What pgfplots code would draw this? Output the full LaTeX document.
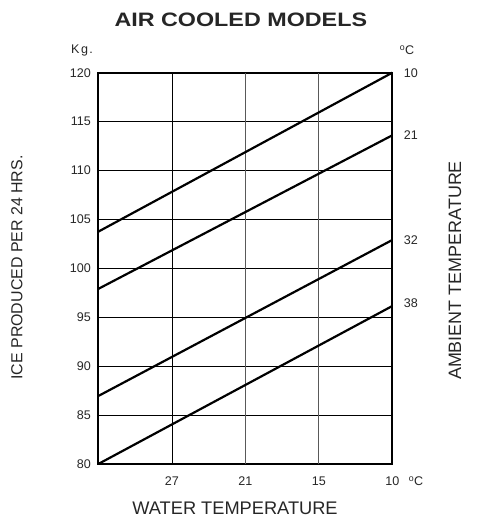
\documentclass[border=0pt]{standalone}
\usepackage{pgfplots}
\pgfplotsset{compat=1.18}
\usepackage{fontspec}
\setmainfont{Liberation Sans}
\definecolor{txt}{gray}{0.15}
\begin{document}
\begin{tikzpicture}
\useasboundingbox (0,0) rectangle (480bp,521bp);
\begin{axis}[
  at={(98.3bp,57bp)}, anchor=south west,
  scale only axis, width=294bp, height=391.3bp,
  xmin=0, xmax=4, ymin=80, ymax=120,
  xtick={1,4}, xticklabels={27,10},
  extra x ticks={2,3}, extra x tick labels={21,15},
  extra x tick style={grid style={gray!70!black, line width=0.7pt}},
  ytick={80,85,...,120},
  major tick length=0pt,
  xmajorgrids, ymajorgrids,
  grid style={black, line width=0.6pt},
  axis line style={line width=2.3pt, black},
  tick label style={font=\fontsize{12.6}{15}\selectfont, text=txt},
  /pgf/number format/assume math mode=true,
  xticklabel style={yshift=-9bp},
  yticklabel style={xshift=-4bp},
  clip=false,
]
\addplot[black, line width=2.2pt] coordinates {(0,103.75) (4,120)};
\addplot[black, line width=2.2pt] coordinates {(0,97.9) (4,113.6)};
\addplot[black, line width=2.2pt] coordinates {(0,86.95) (4,102.9)};
\addplot[black, line width=2.2pt] coordinates {(0,80) (4,96.15)};
\node[anchor=west, font=\fontsize{12.6}{15}\selectfont, text=txt] at (axis cs:4,120) [xshift=8bp] {10};
\node[anchor=west, font=\fontsize{12.6}{15}\selectfont, text=txt] at (axis cs:4,113.6) [xshift=8bp] {21};
\node[anchor=west, font=\fontsize{12.6}{15}\selectfont, text=txt] at (axis cs:4,102.9) [xshift=8bp] {32};
\node[anchor=west, font=\fontsize{12.6}{15}\selectfont, text=txt] at (axis cs:4,96.45) [xshift=8bp] {38};
\end{axis}
\node[font=\fontsize{19.5}{22}\selectfont\bfseries, text=txt, xscale=1.2] at (240.8bp,501.3bp) {AIR COOLED MODELS};
\node[font=\fontsize{18.3}{21}\selectfont, text=txt] at (235bp,13bp) {WATER TEMPERATURE};
\node[font=\fontsize{16}{19}\selectfont, text=txt, rotate=90] at (17bp,253.5bp) {ICE PRODUCED PER 24 HRS.};
\node[font=\fontsize{18}{21}\selectfont, text=txt, rotate=90] at (455bp,250.5bp) {AMBIENT TEMPERATURE};
\node[font=\fontsize{12.6}{15}\selectfont, text=txt] at (82bp,471bp) {K\kern1.5pt g\kern1.2pt.};
\node[font=\fontsize{12.6}{15}\selectfont, text=txt] at (407bp,471bp) {\textsuperscript{o}C};
\node[font=\fontsize{12.6}{15}\selectfont, text=txt] at (416bp,40bp) {\textsuperscript{o}C};
\end{tikzpicture}
\end{document}
